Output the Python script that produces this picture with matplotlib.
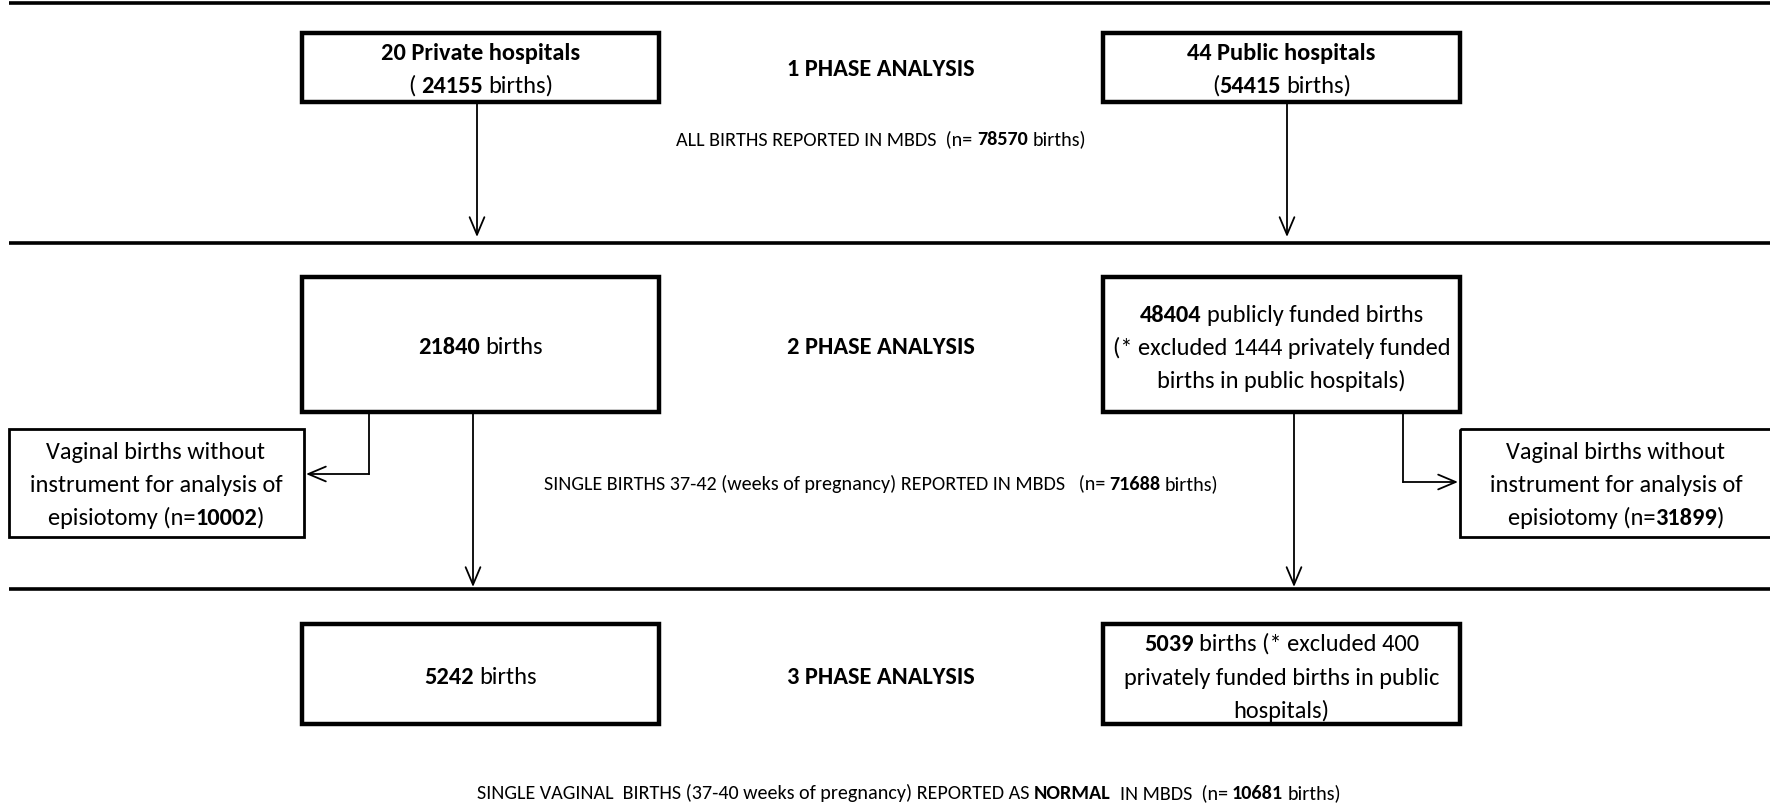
import matplotlib
matplotlib.use('Agg')
import matplotlib.pyplot as plt
from matplotlib import font_manager as fm
from matplotlib.patches import Rectangle, FancyArrowPatch

# ---------------- data ----------------
private_hospitals = 20
public_hospitals = 44
private_births = 24155
public_births = 54415
all_births = 78570
phase2_private = 21840
phase2_public = 48404
phase2_excluded = 1444
single_births = 71688
episiotomy_private = 10002
episiotomy_public = 31899
phase3_private = 5242
phase3_public = 5039
phase3_excluded = 400
normal_births = 10681
phase_labels = ["1 PHASE ANALYSIS", "2 PHASE ANALYSIS", "3 PHASE ANALYSIS"]

# ---------------- font ----------------
names = {f.name for f in fm.fontManager.ttflist}
FONT = 'DejaVu Sans'
for cand in ['Carlito', 'Liberation Sans Narrow', 'Open Sans Condensed',
             'Roboto Condensed', 'Lato', 'Open Sans']:
    if cand in names:
        FONT = cand
        break

W, H = 1770, 804
fig = plt.figure(figsize=(W / 100, H / 100), dpi=100)
ax = fig.add_axes([0, 0, 1, 1])
ax.set_xlim(0, W)
ax.set_ylim(H, 0)
ax.axis('off')
renderer = fig.canvas.get_renderer()


def text_width(s, size, bold):
    t = ax.text(0, 0, s, fontsize=size, fontweight='bold' if bold else 'normal', family=FONT)
    w = t.get_window_extent(renderer).width
    t.remove()
    return w


def rich(x, y, segments, size):
    """segments: list of (text, bold); centred at x, visually centred at y"""
    pieces = []
    total = 0
    for s, b in segments:
        lead = s.startswith(' ')
        trail = s.endswith(' ')
        core = s.strip()
        sp = text_width('x x', size, b) - text_width('xx', size, b)
        if lead:
            total += sp * (len(s) - len(s.lstrip(' ')))
        pieces.append((total, core, b))
        total += text_width(core, size, b) if core else 0
        if trail:
            total += sp * (len(s) - len(s.rstrip(' ')))
    x0 = x - total / 2
    base = y + 0.31 * size * 100 / 72
    for off, core, b in pieces:
        if core:
            ax.text(x0 + off, base, core, fontsize=size, fontweight='bold' if b else 'normal',
                    family=FONT, ha='left', va='baseline')


def box(x0, y0, x1, y1, lw):
    ax.add_patch(Rectangle((x0, y0), x1 - x0, y1 - y0, fill=False, lw=lw, ec='black'))


def arrow(p0, p1):
    ax.add_patch(FancyArrowPatch(p0, p1, arrowstyle='->,head_length=0.9,head_width=0.38',
                                 mutation_scale=14, lw=1.3, color='black',
                                 shrinkA=0, shrinkB=0))


BIG = 17.6
SMALL = 14.5

# horizontal separators
for yy in [4, 244, 590]:
    ax.plot([9, W], [yy, yy], color='black', lw=2.6, solid_capstyle='butt')

LX0, LX1 = 302, 659
RX0, RX1 = 1103, 1460
LC = (LX0 + LX1) / 2
RC = (RX0 + RX1) / 2
MID = 881

# ---- phase 1 ----
box(LX0, 34, LX1, 103, 3.2)
box(RX0, 34, RX1, 103, 3.2)
rich(LC, 52, [(f"{private_hospitals} Private hospitals", True)], BIG)
rich(LC, 85, [("( ", False), (f"{private_births}", True), (" births)", False)], BIG)
rich(RC, 52, [(f"{public_hospitals} Public hospitals", True)], BIG)
rich(RC, 85, [("(", False), (f"{public_births}", True), (" births)", False)], BIG)
rich(MID, 68, [(phase_labels[0], True)], BIG)
rich(MID, 139, [("ALL BIRTHS REPORTED IN MBDS  (n= ", False), (f"{all_births}", True),
                (" births)", False)], SMALL)
arrow((477, 103), (477, 238))
arrow((1287, 103), (1287, 238))

# ---- phase 2 ----
box(LX0, 278, LX1, 413, 3.2)
box(RX0, 278, RX1, 413, 3.2)
rich(LC, 346, [(f"{phase2_private}", True), (" births", False)], BIG)
rich(RC, 314, [(f"{phase2_public}", True), (" publicly funded births", False)], BIG)
rich(RC, 347, [(f"(* excluded {phase2_excluded} privately funded", False)], BIG)
rich(RC, 380, [("births in public hospitals)", False)], BIG)
rich(MID, 346, [(phase_labels[1], True)], BIG)

box(9, 430, 304, 538, 2.0)
rich(156, 451, [("Vaginal births without", False)], BIG)
rich(156, 484, [("instrument for analysis of", False)], BIG)
rich(156, 517, [("episiotomy (n=", False), (f"{episiotomy_private}", True), (")", False)], BIG)

box(1460, 430, 1775, 538, 2.0)
rich(1616, 451, [("Vaginal births without", False)], BIG)
rich(1616, 484, [("instrument for analysis of", False)], BIG)
rich(1616, 517, [("episiotomy (n=", False), (f"{episiotomy_public}", True), (")", False)], BIG)

ax.plot([369, 369], [413, 475], color='black', lw=1.3)
arrow((369, 475), (306, 475))
ax.plot([1403, 1403], [413, 483], color='black', lw=1.3)
arrow((1403, 483), (1458, 483))

rich(MID, 484, [("SINGLE BIRTHS 37-42 (weeks of pregnancy) REPORTED IN MBDS   (n= ", False),
                (f"{single_births}", True), (" births)", False)], SMALL)
arrow((473, 413), (473, 588))
arrow((1294, 413), (1294, 588))

# ---- phase 3 ----
box(LX0, 625, LX1, 725, 3.2)
box(RX0, 625, RX1, 725, 3.2)
rich(LC, 676, [(f"{phase3_private}", True), (" births", False)], BIG)
rich(RC, 643, [(f"{phase3_public}", True), (f" births (* excluded {phase3_excluded}", False)], BIG)
rich(RC, 677, [("privately funded births in public", False)], BIG)
rich(RC, 710, [("hospitals)", False)], BIG)
rich(MID, 676, [(phase_labels[2], True)], BIG)

rich(909, 793, [("SINGLE VAGINAL  BIRTHS (37-40 weeks of pregnancy) REPORTED AS ", False),
                ("NORMAL", True), ("  IN MBDS  (n= ", False), (f"{normal_births}", True),
                (" births)", False)], SMALL)

fig.savefig('out.png', dpi=100)
